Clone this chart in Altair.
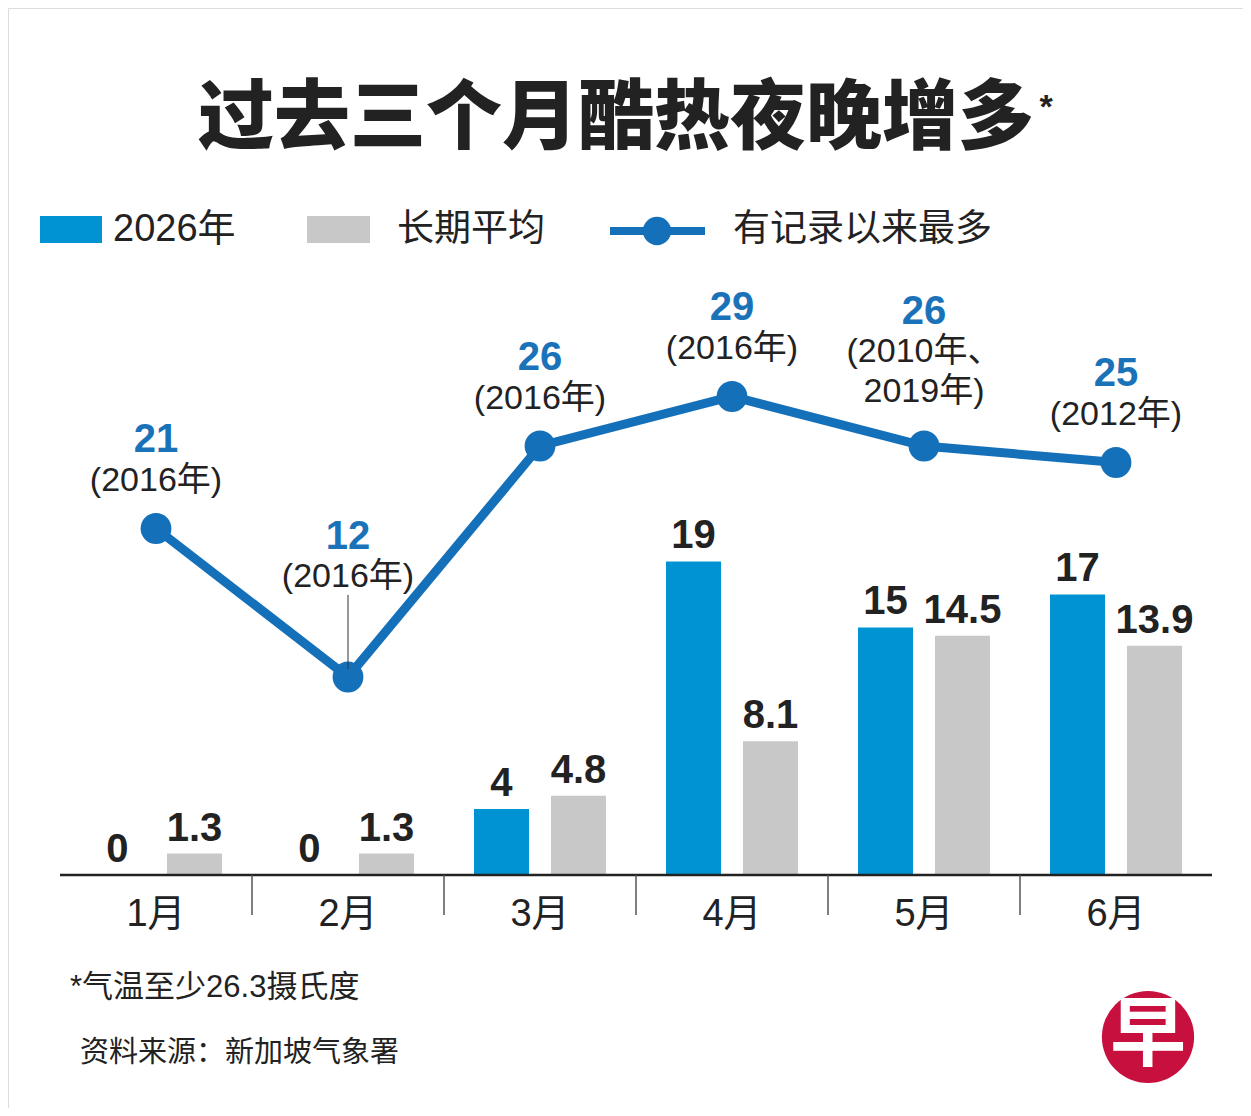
import altair as alt
import pandas as pd

# ---- data ----
months = ["1月", "2月", "3月", "4月", "5月", "6月"]
nights_2026 = [0, 0, 4, 19, 15, 17]
long_term_avg = [1.3, 1.3, 4.8, 8.1, 14.5, 13.9]
record_max = [21, 12, 26, 29, 26, 25]
record_years = ["(2016年)", "(2016年)", "(2016年)", "(2016年)", "(2010年、\n2019年)", "(2012年)"]
series_names = ["2026年", "长期平均"]

title_text = "过去三个月酷热夜晚增多"
note_text = "*气温至少26.3摄氏度"
source_text = "资料来源：新加坡气象署"

BLUE = "#0093d3"
GREY = "#c8c8c8"
LINE = "#1570ba"
LBLUE = "#1a72b8"
DARK = "#222222"
FONT = "Liberation Sans, Noto Sans CJK SC, sans-serif"
CJK = "Noto Sans CJK SC, sans-serif"

bars = pd.DataFrame({
    "month": months * 2,
    "series": [series_names[0]] * 6 + [series_names[1]] * 6,
    "value": nights_2026 + long_term_avg,
})
bars["label"] = bars["value"].map(lambda v: f"{v:g}")

rec = pd.DataFrame({"month": months, "rec": record_max, "year": record_years})
rec["year"] = rec["year"].map(lambda s: s.split("\n"))
rec["reclabel"] = rec["rec"].astype(str)

# plot area spans the whole page; x band scale covers the axis span only
xs = alt.X("month:N", sort=months,
           scale=alt.Scale(range=[52, 1204], paddingInner=0, paddingOuter=0),
           axis=alt.Axis(title=None, orient="bottom", offset=-233, labelAngle=0,
                         labelFontSize=38, labelColor=DARK, labelFont=FONT,
                         labelPadding=20, ticks=False, domain=False, grid=False))
ys = alt.Y("value:Q", scale=alt.Scale(domain=[-14.121, 52.545], nice=False, zero=False),
           axis=None)
xoff = alt.XOffset("series:N", sort=series_names,
                   scale=alt.Scale(paddingInner=0.2857, paddingOuter=0.3896))
col = alt.Color("series:N", sort=series_names,
                scale=alt.Scale(domain=series_names, range=[BLUE, GREY]), legend=None)

base_b = alt.Chart(bars)
bar_layer = base_b.mark_bar().encode(x=xs, y=ys, xOffset=xoff, color=col)
bar_text = base_b.mark_text(dy=-25, baseline="middle", fontSize=40, fontWeight="bold",
                            font=FONT, color=DARK).encode(
    x=alt.X("month:N", sort=months), y=alt.Y("value:Q"),
    xOffset=xoff, text="label:N")

# baseline
baseline = alt.Chart(pd.DataFrame({"z": [0]})).mark_rule(color=DARK, strokeWidth=2.5).encode(
    y=alt.Y("z:Q"), x=alt.value(52), x2=alt.value(1204))

# month separators
sep = alt.Chart(pd.DataFrame({"month": months[1:]})).mark_rule(color="#555555", strokeWidth=1.5).encode(
    x=alt.X("month:N", sort=months, bandPosition=0),
    y=alt.Y("z:Q"), y2=alt.value(907)).transform_calculate(z="0")

# record line
base_r = alt.Chart(rec)
ry = alt.Y("rec:Q")
rx = alt.X("month:N", sort=months)
line = base_r.mark_line(color=LINE, strokeWidth=9).encode(x=rx, y=ry)
pts = base_r.mark_circle(color=LINE, opacity=1, size=950).encode(x=rx, y=ry)

normal = base_r.transform_filter("datum.month != '2月' && datum.month != '5月'")
val_n = normal.mark_text(dy=-88, baseline="middle", fontSize=40, fontWeight="bold",
                         font=FONT, color=LBLUE).encode(x=rx, y=ry, text="reclabel:N")
yr_n = normal.mark_text(dy=-47, baseline="middle", fontSize=34, font=FONT,
                        color=DARK).encode(x=rx, y=ry, text="year")

feb = base_r.transform_filter("datum.month == '2月'")
val_f = feb.mark_text(dy=-140, baseline="middle", fontSize=40, fontWeight="bold",
                      font=FONT, color=LBLUE).encode(x=rx, y=ry, text="reclabel:N")
yr_f = feb.mark_text(dy=-100, baseline="middle", fontSize=34, font=FONT,
                     color=DARK).encode(x=rx, y=ry, text="year")
lead = feb.mark_rule(color="#333333", strokeWidth=1, yOffset=-82, y2Offset=-8).encode(
    x=rx, y=ry, y2="rec:Q")

may = base_r.transform_filter("datum.month == '5月'")
val_m = may.mark_text(dy=-134, baseline="middle", fontSize=40, fontWeight="bold",
                      font=FONT, color=LBLUE).encode(x=rx, y=ry, text="reclabel:N")
yr_m = may.mark_text(dy=-94, baseline="middle", fontSize=34, font=FONT, lineHeight=40,
                     color=DARK).encode(x=rx, y=ry, text="year")

one = alt.Chart(pd.DataFrame({"a": [0]}))
X0 = 52  # left edge of axis span inside the plot

# title
title = one.mark_text(text=title_text, fontSize=76, fontWeight=900, font=CJK, color=DARK,
                      align="center", baseline="middle").encode(x=alt.value(X0 + 556), y=alt.value(112))
star = one.mark_text(text="*", fontSize=34, fontWeight="bold", font=FONT, color=DARK,
                     align="center", baseline="middle").encode(x=alt.value(X0 + 986), y=alt.value(100))

# legend
leg_blue = one.mark_rect(color=BLUE).encode(x=alt.value(X0 - 20), x2=alt.value(X0 + 42),
                                            y=alt.value(208), y2=alt.value(235))
leg_grey = one.mark_rect(color=GREY).encode(x=alt.value(X0 + 247), x2=alt.value(X0 + 310),
                                            y=alt.value(208), y2=alt.value(235))
leg_line = one.mark_rule(color=LINE, strokeWidth=8).encode(x=alt.value(X0 + 550), x2=alt.value(X0 + 645),
                                                          y=alt.value(223))
leg_pt = one.mark_circle(color=LINE, opacity=1, size=800).encode(x=alt.value(X0 + 597), y=alt.value(223))
leg_t1 = one.mark_text(text=series_names[0], fontSize=38, font=FONT, color=DARK, align="left",
                       baseline="middle").encode(x=alt.value(X0 + 53), y=alt.value(222))
leg_t2 = one.mark_text(text=series_names[1], fontSize=37, font=CJK, color=DARK, align="left",
                       baseline="middle").encode(x=alt.value(X0 + 337), y=alt.value(222))
leg_t3 = one.mark_text(text="有记录以来最多", fontSize=37, font=CJK, color=DARK, align="left",
                       baseline="middle").encode(x=alt.value(X0 + 673), y=alt.value(222))

# footnotes
note = one.mark_text(text=note_text, fontSize=31, font=FONT, color=DARK, align="left",
                     baseline="middle").encode(x=alt.value(X0 + 10), y=alt.value(980))
src = one.mark_text(text=source_text, fontSize=29, font=CJK, color=DARK, align="left",
                    baseline="middle").encode(x=alt.value(X0 + 20), y=alt.value(1045))

# logo
logo_c = one.mark_circle(color="#c8103e", opacity=1, size=8500).encode(x=alt.value(X0 + 1088),
                                                                     y=alt.value(1029))
logo_t = one.mark_text(text="早", fontSize=76, fontWeight="bold", font=CJK, color="white",
                       align="center", baseline="middle").encode(x=alt.value(X0 + 1088),
                                                                 y=alt.value(1029))

chart = alt.layer(
    bar_layer, bar_text, baseline, sep, line, pts,
    val_n, yr_n, val_f, yr_f, lead, val_m, yr_m,
    title, star, leg_blue, leg_grey, leg_line, leg_pt, leg_t1, leg_t2, leg_t3,
    note, src, logo_c, logo_t,
).properties(
    width=1235, height=1100,
    autosize=alt.AutoSizeParams(type="none"),
    padding=0,
).configure_view(stroke="transparent", strokeWidth=0, fill="white"
).configure(background="white")

chart.save("out.html", embed_options={"renderer": "svg", "actions": False})
